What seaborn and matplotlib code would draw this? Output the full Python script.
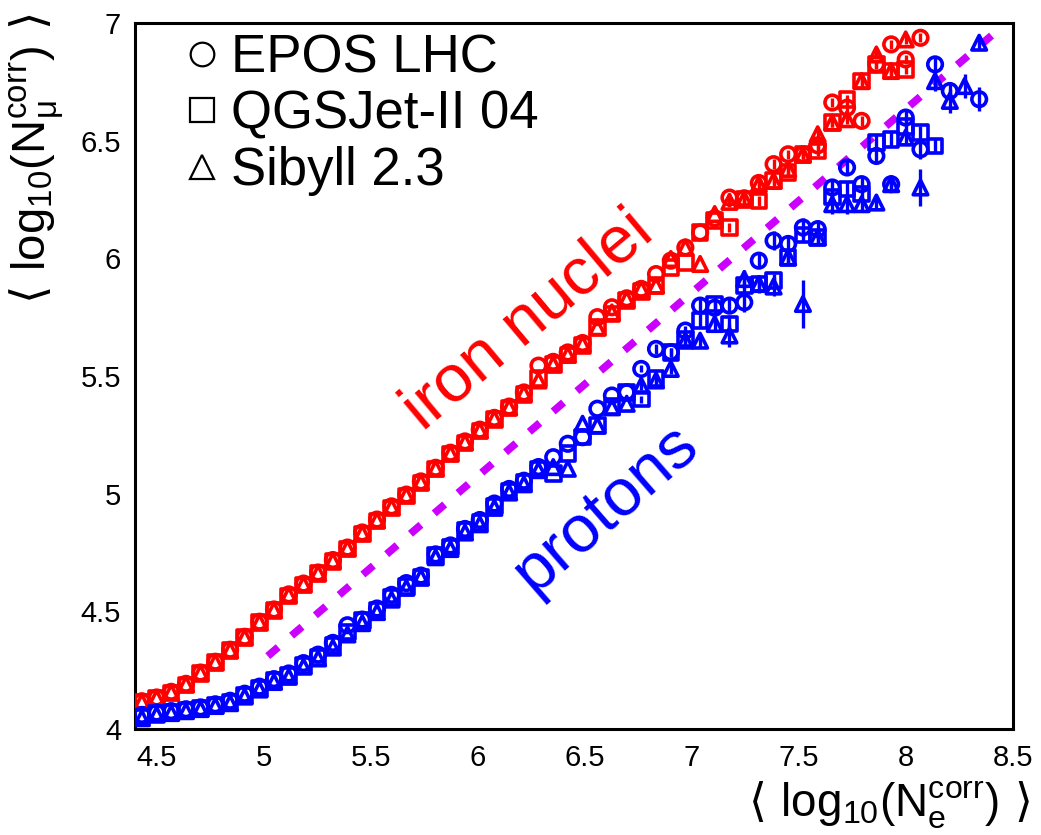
"""
<log10 Nmu> vs <log10 Ne> for protons and iron nuclei (three hadronic models)
"""

import pandas as pd
import seaborn as sns
import matplotlib.pyplot as plt
from matplotlib.lines import Line2D
from matplotlib.ticker import MultipleLocator, FuncFormatter

# =========================
# data
# =========================
x_bins = [4.432, 4.501, 4.569, 4.638, 4.706, 4.775, 4.844, 4.912, 4.981, 5.049,
          5.118, 5.187, 5.255, 5.324, 5.392, 5.461, 5.530, 5.598, 5.667, 5.735,
          5.804, 5.873, 5.941, 6.010, 6.078, 6.147, 6.216, 6.284, 6.353, 6.421,
          6.490, 6.559, 6.627, 6.696, 6.764, 6.833, 6.902, 6.970, 7.039, 7.107,
          7.176, 7.245, 7.313, 7.382, 7.450, 7.519, 7.588, 7.656, 7.725, 7.793,
          7.862, 7.931, 7.999, 8.068, 8.136, 8.205, 8.274, 8.342]

fe_epos = [4.118, 4.134, 4.158, 4.192, 4.240, 4.286, 4.337, 4.392, 4.456, 4.508,
           4.572, 4.618, 4.665, 4.718, 4.771, 4.835, 4.890, 4.946, 4.996, 5.052,
           5.110, 5.174, 5.222, 5.272, 5.322, 5.370, 5.430, 5.544, 5.560, 5.600,
           5.640, 5.750, 5.792, 5.830, 5.870, 5.933, 5.990, 6.046, 6.110, 6.170,
           6.258, 6.255, 6.320, 6.400, 6.442, 6.442, 6.480, 6.662, 6.640, 6.584,
           6.824, 6.909, 6.845, 6.937]
fe_qgs = [4.114, 4.130, 4.154, 4.188, 4.236, 4.282, 4.333, 4.388, 4.452, 4.503,
          4.566, 4.612, 4.660, 4.712, 4.765, 4.829, 4.884, 4.940, 4.990, 5.046,
          5.104, 5.168, 5.216, 5.266, 5.316, 5.364, 5.422, 5.490, 5.550, 5.590,
          5.630, 5.707, 5.764, 5.820, 5.860, 5.884, 5.961, 5.983, 6.110, 6.160,
          6.131, 6.250, 6.244, 6.330, 6.365, 6.440, 6.456, 6.577, 6.676, 6.753,
          6.824, 6.796, 6.803]
fe_sib = [4.116, 4.132, 4.156, 4.190, 4.238, 4.284, 4.335, 4.390, 4.454, 4.506,
          4.569, 4.615, 4.662, 4.715, 4.768, 4.832, 4.887, 4.943, 4.993, 5.049,
          5.107, 5.171, 5.219, 5.269, 5.319, 5.367, 5.426, 5.481, 5.550, 5.590,
          5.636, 5.707, 5.770, 5.827, 5.870, 5.884, 5.997, 6.046, 5.976, 6.188,
          6.240, 6.251, 6.315, 6.329, 6.380, 6.440, 6.527, 6.577, 6.591, 6.753,
          6.866, 6.796, 6.930]

p_epos = [4.060, 4.070, 4.076, 4.084, 4.092, 4.105, 4.120, 4.150, 4.180, 4.212,
          4.236, 4.280, 4.316, 4.366, 4.441, 4.465, 4.512, 4.570, 4.620, 4.652,
          4.742, 4.780, 4.850, 4.888, 4.958, 5.020, 5.055, 5.113, 5.155, 5.212,
          5.240, 5.361, 5.417, 5.431, 5.530, 5.615, 5.601, 5.693, 5.799, 5.790,
          5.799, 5.813, 5.990, 6.075, 6.061, 6.131, 6.124, 6.301, 6.386, 6.315,
          6.435, 6.315, 6.598, 6.463, 6.824, 6.711, 6.676]
p_qgs = [4.052, 4.066, 4.072, 4.080, 4.088, 4.101, 4.114, 4.142, 4.172, 4.207,
         4.228, 4.271, 4.305, 4.354, 4.412, 4.460, 4.505, 4.558, 4.605, 4.644,
         4.738, 4.773, 4.844, 4.878, 4.948, 5.012, 5.047, 5.104, 5.085, 5.170,
         5.240, 5.290, 5.370, 5.431, 5.402, 5.490, 5.601, 5.658, 5.735, 5.806,
         5.721, 5.884, 5.891, 5.905, 6.004, 6.100, 6.089, 6.260, 6.294, 6.273,
         6.492, 6.506, 6.560, 6.534, 6.478]
p_sib = [4.046, 4.061, 4.068, 4.076, 4.085, 4.098, 4.110, 4.138, 4.168, 4.200,
         4.222, 4.265, 4.300, 4.346, 4.402, 4.450, 4.497, 4.550, 4.600, 4.645,
         4.730, 4.765, 4.835, 4.870, 4.940, 5.005, 5.040, 5.100, 5.113, 5.106,
         5.297, 5.290, 5.367, 5.382, 5.459, 5.481, 5.530, 5.650, 5.650, 5.721,
         5.672, 5.912, 5.891, 5.880, 6.004, 5.806, 6.089, 6.230, 6.230, 6.230,
         6.237, 6.315, 6.513, 6.301, 6.753, 6.669, 6.732, 6.916]

# statistical errors (only visible in the tails)
fe_epos_err = [0.0] * 40 + [0.02] * 14
fe_qgs_err = [0.0] * 40 + [0.02] * 13
fe_sib_err = [0.0] * 40 + [0.02] * 13
p_epos_err = [0.0] * 34 + [0.015, 0.02, 0.02, 0.02, 0.03, 0.03, 0.03, 0.04, 0.03, 0.04,
                           0.03, 0.04, 0.04, 0.03, 0.03, 0.03, 0.03, 0.03, 0.03, 0.04,
                           0.03, 0.04, 0.05]
p_qgs_err = [0.0] * 34 + [0.015, 0.02, 0.02, 0.02, 0.03, 0.03, 0.04, 0.03, 0.04, 0.03,
                          0.03, 0.03, 0.03, 0.03, 0.03, 0.03, 0.03, 0.03, 0.03, 0.03,
                          0.03]
p_sib_err = [0.0] * 34 + [0.02, 0.03, 0.02, 0.02, 0.03, 0.03, 0.05, 0.04, 0.03, 0.04,
                          0.03, 0.10, 0.03, 0.04, 0.04, 0.03, 0.03, 0.03, 0.03, 0.08,
                          0.04, 0.05, 0.05, 0.03]

# x positions for each series
x_p_epos = x_bins[:56] + x_bins[57:]

# dashed reference line (end points)
line_x = [5.02, 8.43]
line_y = [4.31, 6.97]

MODELS = ["EPOS LHC", "QGSJet-II 04", "Sibyll 2.3"]
MARKERS = {"EPOS LHC": "o", "QGSJet-II 04": "s", "Sibyll 2.3": "^"}
PALETTE = {"iron": "#ff0000", "proton": "#0000ff"}

series = [
    ("iron", "EPOS LHC", x_bins[:len(fe_epos)], fe_epos, fe_epos_err),
    ("iron", "QGSJet-II 04", x_bins[:len(fe_qgs)], fe_qgs, fe_qgs_err),
    ("iron", "Sibyll 2.3", x_bins[:len(fe_sib)], fe_sib, fe_sib_err),
    ("proton", "EPOS LHC", x_p_epos, p_epos, p_epos_err),
    ("proton", "QGSJet-II 04", x_bins[:len(p_qgs)], p_qgs, p_qgs_err),
    ("proton", "Sibyll 2.3", x_bins[:len(p_sib)], p_sib, p_sib_err),
]

frames = []
for prim, model, xs, ys, es in series:
    frames.append(pd.DataFrame({"ne": xs, "nmu": ys, "err": es,
                                "primary": prim, "model": model}))
df = pd.concat(frames, ignore_index=True)

# =========================
# style
# =========================
sns.set_style("white")
plt.rcParams["font.family"] = ["Liberation Sans", "DejaVu Sans"]
plt.rcParams["mathtext.fontset"] = "custom"
plt.rcParams["mathtext.rm"] = "Liberation Sans"
plt.rcParams["mathtext.it"] = "Liberation Sans:italic"
plt.rcParams["mathtext.bf"] = "Liberation Sans:bold"
for key in ["text.color", "axes.labelcolor", "xtick.color", "ytick.color"]:
    plt.rcParams[key] = "black"

fig = plt.figure(figsize=(10.41, 8.35), dpi=100)
ax = fig.add_axes([0.1297, 0.1269, 0.8434, 0.8456])

# reference line
ax.plot(line_x, line_y, color="#cc00ff", lw=5.5, linestyle=(0, (1.8, 2.3)),
        solid_capstyle="butt", dash_capstyle="butt", zorder=2)

# error bars
for prim, model, xs, ys, es in series:
    sub = df[(df["primary"] == prim) & (df["model"] == model) & (df["err"] > 0)]
    ax.errorbar(sub["ne"], sub["nmu"], yerr=sub["err"], fmt="none",
                ecolor=PALETTE[prim], elinewidth=2.4, capsize=0, zorder=3)

# markers
sns.scatterplot(data=df, x="ne", y="nmu", hue="primary", style="model",
                palette=PALETTE, markers=MARKERS, s=110, linewidth=2.6,
                legend=False, ax=ax, zorder=4)
for coll in ax.collections:
    if coll.get_offsets().shape[0] > 30:
        fc = coll.get_facecolors()
        coll.set_edgecolors(fc)
        coll.set_facecolors("none")

# labels on the curves
ax.text(6.236, 5.735, "iron nuclei", color="#ff0000", fontsize=48,
        rotation=40, ha="center", va="center")
ax.text(6.60, 4.936, "protons", color="#0000ff", fontsize=48,
        rotation=41, ha="center", va="center")

# axes
ax.set_xlim(4.4, 8.5)
ax.set_ylim(4.0, 7.0)
ax.xaxis.set_major_locator(MultipleLocator(0.5))
ax.xaxis.set_minor_locator(MultipleLocator(0.1))
ax.yaxis.set_major_locator(MultipleLocator(0.5))
ax.yaxis.set_minor_locator(MultipleLocator(0.1))
fmt = FuncFormatter(lambda v, _: f"{v:g}")
ax.xaxis.set_major_formatter(fmt)
ax.yaxis.set_major_formatter(fmt)
ax.tick_params(axis="x", which="major", direction="in", length=13.5, width=2.2,
               labelsize=21, pad=11, top=False)
ax.tick_params(axis="x", which="minor", direction="in", length=6.5, width=2.2, top=False)
ax.tick_params(axis="y", which="major", direction="in", length=20, width=2.2,
               labelsize=21, pad=10, right=False)
ax.tick_params(axis="y", which="minor", direction="in", length=10, width=2.2, right=False)
for sp in ax.spines.values():
    sp.set_linewidth(2.2)
    sp.set_color("black")
ax.set_xlabel("")
ax.set_ylabel("")

# axis titles: brackets from DejaVu Sans, the rest through mathtext (Liberation Sans)
fig.text(1030 / 1041, 4 / 835,
         "\u27e8 $\\mathrm{log}_{10}(\\mathrm{N}_{\\mathrm{e}}^{\\mathrm{corr}})$ \u27e9",
         fontsize=33, ha="right", va="bottom", family="DejaVu Sans")
fig.text(8 / 1041, 1 - 14 / 835,
         "\u27e8 $\\mathrm{log}_{10}(\\mathrm{N}_{\\mathrm{\\mu}}^{\\mathrm{corr}})$ \u27e9",
         fontsize=34, ha="left", va="top", rotation=90, family="DejaVu Sans")

# legend
handles = [Line2D([], [], marker=MARKERS[m], ls="none", mfc="none", mec="black",
                  ms=17, mew=1.6) for m in MODELS]
ax.legend(handles, MODELS, loc="upper left", bbox_to_anchor=(0.055, 0.985),
          frameon=False, fontsize=38, handlelength=0.7, handletextpad=0.2,
          labelspacing=0.12, borderaxespad=0, borderpad=0)

fig.savefig("out.png", dpi=100)
